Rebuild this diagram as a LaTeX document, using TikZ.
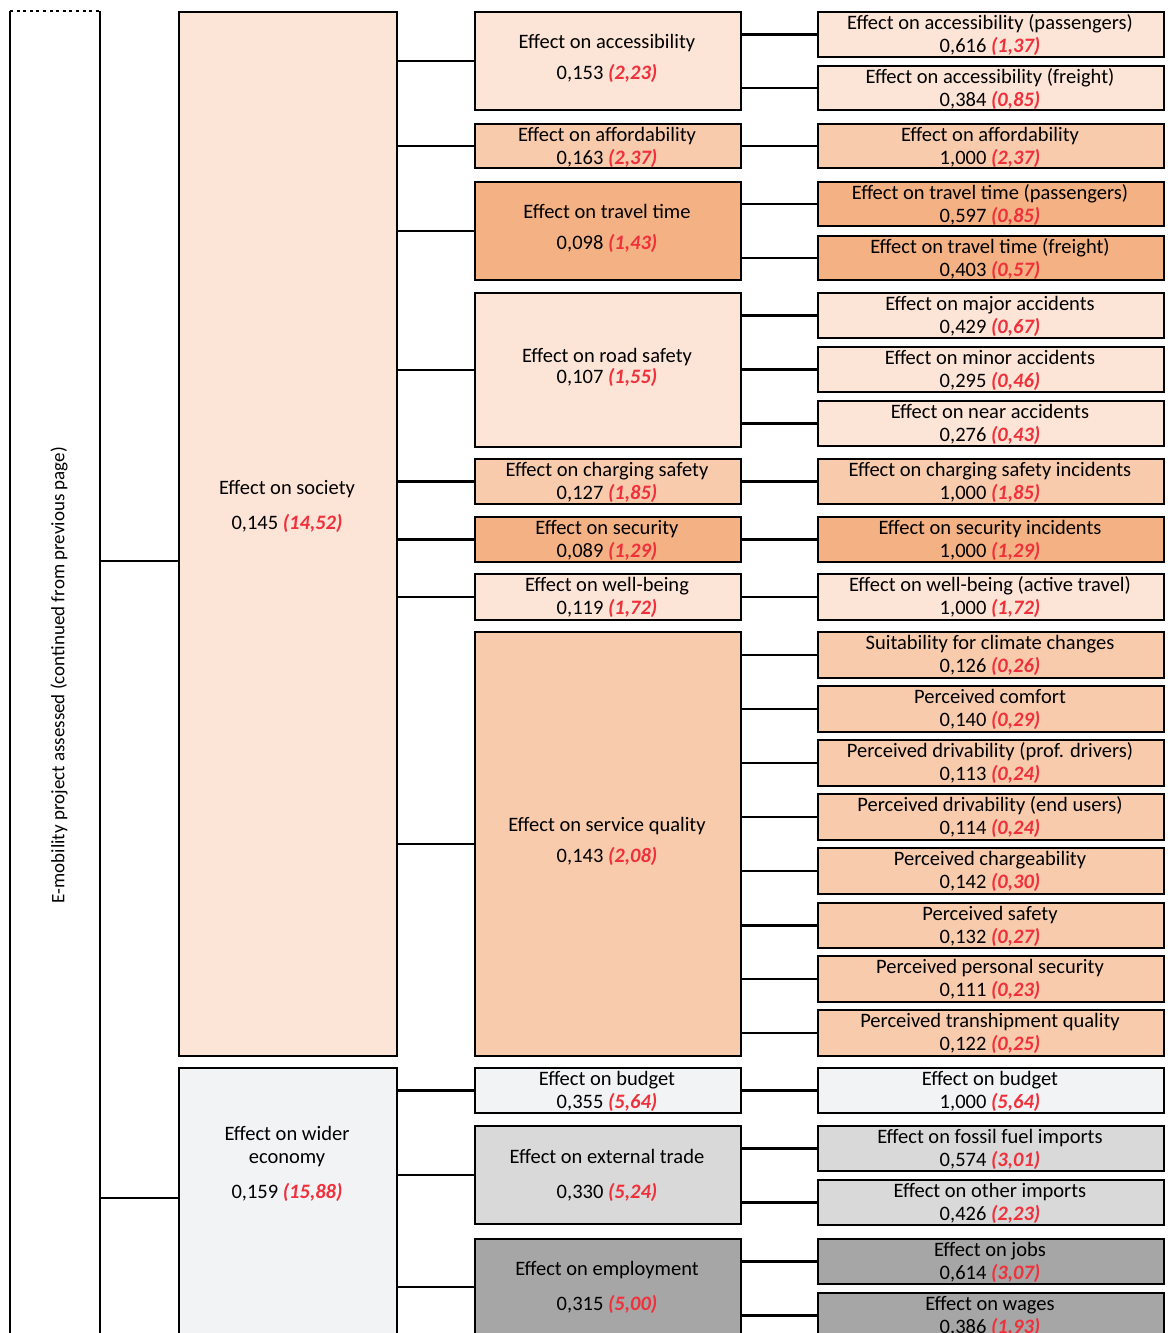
\documentclass[tikz,border=0pt]{standalone}
\usepackage{fontspec}
\setmainfont{Carlito}
\definecolor{pA}{HTML}{FCE4D6}
\definecolor{pB}{HTML}{F8CBAD}
\definecolor{pC}{HTML}{F4B183}
\definecolor{gA}{HTML}{F2F3F5}
\definecolor{gB}{HTML}{D9D9D9}
\definecolor{gC}{HTML}{A6A6A6}
\definecolor{rednum}{HTML}{F0303A}
\newcommand\vl[2]{#1 {\color{rednum}\bfseries\itshape(#2)}}
\tikzset{
  bx/.style={draw=black, line width=2.3pt, inner sep=0pt, rectangle},
  conn/.style={line width=2.4pt},
  tx/.style={anchor=base, inner sep=0pt, font=\fontsize{20.5}{22.5}\selectfont},
}
% #1 name, #2 x1, #3 y1, #4 x2, #5 y2, #6 fill
\newcommand\mybox[6]{%
  \node[bx, fill=#6, minimum width={(#4-#2)*1pt}, minimum height={(#5-#3)*1pt}, anchor=north west] (#1) at (#2,#3) {};}
% small two-line box
\newcommand\smallbx[9]{%
  \mybox{#1}{#2}{#3}{#4}{#5}{#6}%
  \node[tx] (#1-a) at ({(#2+#4)/2},{#3+18.5}) {#7};%
  \node[tx] (#1-b) at ({(#2+#4)/2},{#3+41}) {\vl{#8}{#9}};}
\begin{document}
\begin{tikzpicture}[x=1pt,y=-1pt]
\useasboundingbox (0,0) rectangle (1170,1333);
\clip (0,0) rectangle (1170,1333);
\fill[white] (0,0) rectangle (1170,1333);

% left frame
\node[minimum width=90pt, minimum height=1334pt, inner sep=0pt, anchor=north west] (left) at (10,11) {};
\draw[line width=2pt] (left.north west) -- (left.south west);
\draw[line width=2pt] (left.north east) -- (left.south east);
\draw[line width=2.6pt, dash pattern=on 3pt off 3.6pt] (left.north west) -- (left.north east);
\node[rotate=90, font=\fontsize{19}{22}\selectfont, inner sep=0pt] (root) at (59,675) {E-mobility project assessed (continued from previous page)};

% column 1
\mybox{soc}{178}{11}{396}{1055}{pA}
\node[tx] (soc-a) at (287,494.5) {Effect on society};
\node[tx] (soc-b) at (287,529.5) {\vl{0,145}{14,52}};
\mybox{wec}{178}{1067}{396}{1345}{gA}
\node[tx] (wec-a) at (287,1140.5) {Effect on wider};
\node[tx] (wec-b) at (287,1163.5) {economy};
\node[tx] (wec-c) at (287,1198.5) {\vl{0,159}{15,88}};

% column 2
\mybox{acc}{474}{11}{740}{109}{pA}
\node[tx] (acc-a) at (607,48.5) {Effect on accessibility};
\node[tx] (acc-b) at (607,79.5) {\vl{0,153}{2,23}};
\smallbx{aff}{474}{123}{740}{167}{pB}{Effect on affordability}{0,163}{2,37}
\mybox{tt}{474}{181}{740}{279}{pC}
\node[tx] (tt-a) at (607,218.5) {Effect on travel time};
\node[tx] (tt-b) at (607,249.5) {\vl{0,098}{1,43}};
\mybox{rs}{474}{292}{740}{446}{pA}
\node[tx] (rs-a) at (607,362.5) {Effect on road safety};
\node[tx] (rs-b) at (607,383.5) {\vl{0,107}{1,55}};
\smallbx{cs}{474}{458}{740}{503}{pB}{Effect on charging safety}{0,127}{1,85}
\smallbx{sec}{474}{516}{740}{561}{pC}{Effect on security}{0,089}{1,29}
\smallbx{wb}{474}{573}{740}{619}{pA}{Effect on well-being}{0,119}{1,72}
\mybox{sq}{474}{631}{740}{1055}{pB}
\node[tx] (sq-a) at (607,831.5) {Effect on service quality};
\node[tx] (sq-b) at (607,862.5) {\vl{0,143}{2,08}};
\smallbx{bud}{474}{1067}{740}{1112}{gA}{Effect on budget}{0,355}{5,64}
\mybox{ext}{474}{1125}{740}{1223}{gB}
\node[tx] (ext-a) at (607,1163.5) {Effect on external trade};
\node[tx] (ext-b) at (607,1198.5) {\vl{0,330}{5,24}};
\mybox{emp}{474}{1238}{740}{1334}{gC}
\node[tx] (emp-a) at (607,1275.5) {Effect on employment};
\node[tx] (emp-b) at (607,1310.5) {\vl{0,315}{5,00}};

% column 3
\smallbx{accp}{817}{11}{1163}{56}{pA}{Effect on accessibility (passengers)}{0,616}{1,37}
\smallbx{accf}{817}{65}{1163}{109}{pA}{Effect on accessibility (freight)}{0,384}{0,85}
\smallbx{aff3}{817}{123}{1163}{167}{pB}{Effect on affordability}{1,000}{2,37}
\smallbx{ttp}{817}{181}{1163}{225}{pC}{Effect on travel time (passengers)}{0,597}{0,85}
\smallbx{ttf}{817}{235}{1163}{279}{pC}{Effect on travel time (freight)}{0,403}{0,57}
\smallbx{maj}{817}{292}{1163}{337}{pA}{Effect on major accidents}{0,429}{0,67}
\smallbx{min}{817}{346}{1163}{391}{pA}{Effect on minor accidents}{0,295}{0,46}
\smallbx{near}{817}{400}{1163}{445}{pA}{Effect on near accidents}{0,276}{0,43}
\smallbx{csi}{817}{458}{1163}{503}{pB}{Effect on charging safety incidents}{1,000}{1,85}
\smallbx{seci}{817}{516}{1163}{561}{pC}{Effect on security incidents}{1,000}{1,29}
\smallbx{wbi}{817}{573}{1163}{619}{pA}{Effect on well-being (active travel)}{1,000}{1,72}
\smallbx{qa}{817}{631}{1163}{677}{pB}{Suitability for climate changes}{0,126}{0,26}
\smallbx{qb}{817}{685}{1163}{731}{pB}{Perceived comfort}{0,140}{0,29}
\smallbx{qc}{817}{739}{1163}{785}{pB}{Perceived drivability (prof. drivers)}{0,113}{0,24}
\smallbx{qd}{817}{793}{1163}{839}{pB}{Perceived drivability (end users)}{0,114}{0,24}
\smallbx{qe}{817}{847}{1163}{893}{pB}{Perceived chargeability}{0,142}{0,30}
\smallbx{qf}{817}{902}{1163}{947}{pB}{Perceived safety}{0,132}{0,27}
\smallbx{qg}{817}{955}{1163}{1001}{pB}{Perceived personal security}{0,111}{0,23}
\smallbx{qh}{817}{1009}{1163}{1055}{pB}{Perceived transhipment quality}{0,122}{0,25}
\smallbx{bud3}{817}{1067}{1163}{1112}{gA}{Effect on budget}{1,000}{5,64}
\smallbx{fos}{817}{1125}{1163}{1170}{gB}{Effect on fossil fuel imports}{0,574}{3,01}
\smallbx{oth}{817}{1179}{1163}{1224}{gB}{Effect on other imports}{0,426}{2,23}
\smallbx{jobs}{817}{1238}{1163}{1283}{gC}{Effect on jobs}{0,614}{3,07}
\smallbx{wag}{817}{1292}{1163}{1337}{gC}{Effect on wages}{0,386}{1,93}

% connectors root -> column 1
\coordinate (socin) at (178,561);
\coordinate (wecin) at (178,1198);
\draw[conn] (socin -| left.east) -- (socin);
\draw[conn] (wecin -| left.east) -- (wecin);

% column 1 -> column 2
\foreach \c in {acc,aff,tt,rs,cs,sec,wb,sq}
  \draw[conn] (soc.east |- \c.west) -- (\c.west);
\foreach \c in {bud,ext,emp}
  \draw[conn] (wec.east |- \c.west) -- (\c.west);

% column 2 -> column 3
\foreach \p/\c in {acc/accp,acc/accf,aff/aff3,tt/ttp,tt/ttf,rs/maj,rs/min,rs/near,cs/csi,sec/seci,wb/wbi,
  sq/qa,sq/qb,sq/qc,sq/qd,sq/qe,sq/qf,sq/qg,sq/qh,bud/bud3,ext/fos,ext/oth,emp/jobs,emp/wag}
  \draw[conn] (\p.east |- \c.west) -- (\c.west);
\end{tikzpicture}
\end{document}
